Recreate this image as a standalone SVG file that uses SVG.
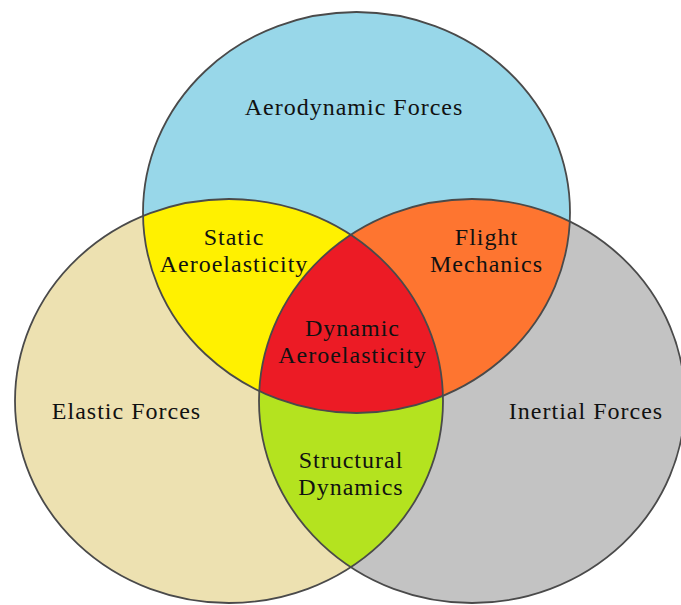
<svg xmlns="http://www.w3.org/2000/svg" width="681" height="605" viewBox="0 0 681 605">
<style>
.lbl{font-family:"Liberation Serif","Times New Roman",serif;font-size:24px;letter-spacing:1px;fill:#111;text-anchor:middle}
.edge{fill:none;stroke:#4a4a4a;stroke-width:1.8}
</style>
<defs>
<clipPath id="cTop"><ellipse cx="356.5" cy="212.5" rx="213.5" ry="200.5"/></clipPath>
<clipPath id="cLeft"><ellipse cx="229" cy="401" rx="214" ry="202"/></clipPath>
</defs>
<rect width="681" height="605" fill="#ffffff"/>
<g id="elastic"><ellipse cx="229" cy="401" rx="214" ry="202" fill="#ede1b1"/></g>
<g id="inertial"><ellipse cx="472" cy="401" rx="213" ry="202" fill="#c3c3c3"/></g>
<g id="aerodynamic"><ellipse cx="356.5" cy="212.5" rx="213.5" ry="200.5" fill="#98d7e9"/></g>
<g id="static-aeroelasticity"><ellipse cx="229" cy="401" rx="214" ry="202" fill="#fff100" clip-path="url(#cTop)"/></g>
<g id="flight-mechanics"><ellipse cx="472" cy="401" rx="213" ry="202" fill="#fe7530" clip-path="url(#cTop)"/></g>
<g id="structural-dynamics"><ellipse cx="472" cy="401" rx="213" ry="202" fill="#b4e31f" clip-path="url(#cLeft)"/></g>
<g id="dynamic-aeroelasticity"><g clip-path="url(#cLeft)"><ellipse cx="472" cy="401" rx="213" ry="202" fill="#ec1b25" clip-path="url(#cTop)"/></g></g>
<g id="outlines">
<ellipse class="edge" cx="229" cy="401" rx="214" ry="202"/>
<ellipse class="edge" cx="472" cy="401" rx="213" ry="202"/>
<ellipse class="edge" cx="356.5" cy="212.5" rx="213.5" ry="200.5"/>
</g>
<g id="labels">
<text class="lbl" x="354" y="115">Aerodynamic Forces</text>
<text class="lbl" x="126.5" y="419">Elastic Forces</text>
<text class="lbl" x="586" y="419">Inertial Forces</text>
<text class="lbl" x="234" y="245"><tspan x="234">Static</tspan><tspan x="234" dy="27">Aeroelasticity</tspan></text>
<text class="lbl" x="486.5" y="245"><tspan x="486.5">Flight</tspan><tspan x="486.5" dy="27">Mechanics</tspan></text>
<text class="lbl" x="352.5" y="336"><tspan x="352.5">Dynamic</tspan><tspan x="352.5" dy="27">Aeroelasticity</tspan></text>
<text class="lbl" x="351" y="468"><tspan x="351">Structural</tspan><tspan x="351" dy="27">Dynamics</tspan></text>
</g>
</svg>
